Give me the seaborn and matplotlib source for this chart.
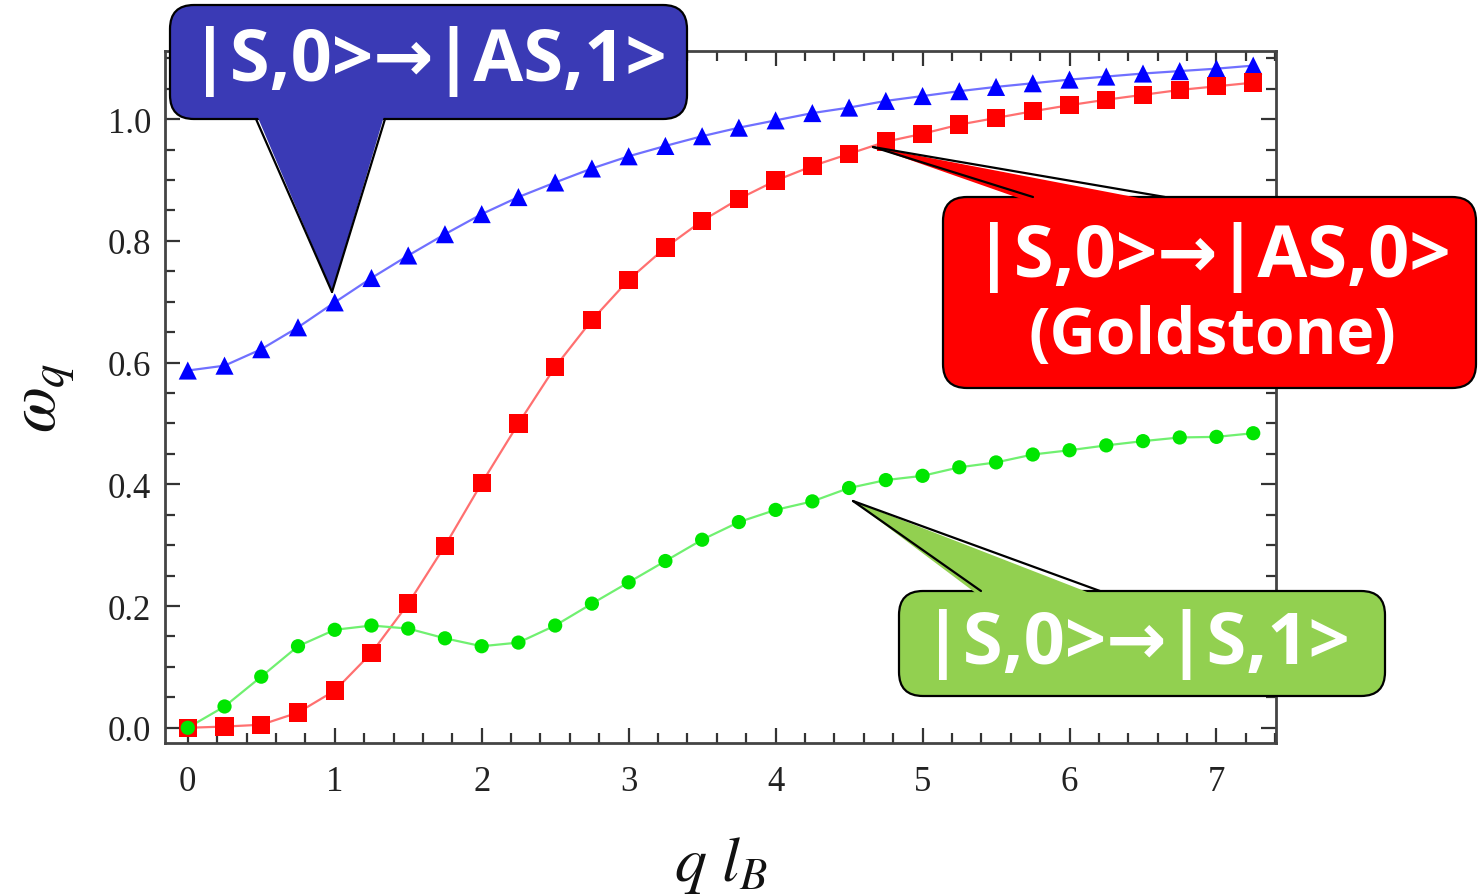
import numpy as np
import pandas as pd
import matplotlib
matplotlib.use("Agg")
import matplotlib.pyplot as plt
import seaborn as sns
from matplotlib.patches import FancyBboxPatch, Polygon
from matplotlib.lines import Line2D
from matplotlib.transforms import Affine2D
from matplotlib.ticker import MultipleLocator, FormatStrFormatter

# ---------------- data ----------------
q_lB = [0.0, 0.25, 0.5, 0.75, 1.0, 1.25, 1.5, 1.75, 2.0, 2.25,
        2.5, 2.75, 3.0, 3.25, 3.5, 3.75, 4.0, 4.25, 4.5, 4.75,
        5.0, 5.25, 5.5, 5.75, 6.0, 6.25, 6.5, 6.75, 7.0, 7.25]
omega_AS1 = [0.587, 0.595, 0.622, 0.658, 0.699, 0.739, 0.776, 0.811, 0.844, 0.872,
             0.896, 0.919, 0.939, 0.956, 0.972, 0.986, 0.998, 1.010, 1.019, 1.030,
             1.038, 1.046, 1.053, 1.059, 1.065, 1.070, 1.075, 1.079, 1.083, 1.088]
omega_AS0 = [0.000, 0.002, 0.005, 0.025, 0.061, 0.123, 0.204, 0.299, 0.402, 0.500,
             0.593, 0.670, 0.736, 0.789, 0.833, 0.869, 0.899, 0.923, 0.943, 0.963,
             0.976, 0.991, 1.002, 1.013, 1.023, 1.032, 1.040, 1.048, 1.054, 1.060]
omega_S1 = [0.000, 0.035, 0.084, 0.134, 0.161, 0.168, 0.163, 0.147, 0.134, 0.140,
            0.168, 0.204, 0.239, 0.274, 0.309, 0.338, 0.358, 0.372, 0.394, 0.407,
            0.414, 0.428, 0.436, 0.449, 0.456, 0.464, 0.471, 0.477, 0.478, 0.484]
x_ticks = [0, 1, 2, 3, 4, 5, 6, 7]
y_ticks = [0.0, 0.2, 0.4, 0.6, 0.8, 1.0]
label_AS1 = "|S,0>→|AS,1>"
label_AS0_line1 = "|S,0>→|AS,0>"
label_AS0_line2 = "(Goldstone)"
label_S1 = "|S,0>→|S,1>"

# ---------------- style ----------------
sns.set_theme(style="ticks")
plt.rcParams["font.family"] = ["Liberation Serif", "DejaVu Serif"]
plt.rcParams["mathtext.fontset"] = "stix"

W, H = 1478, 895
fig = plt.figure(figsize=(W / 100, H / 100), dpi=100)
ax = fig.add_axes([165 / W, 1 - 744 / H, (1276 - 165) / W, (744 - 52) / H])

df = pd.DataFrame({"q": q_lB, "AS1": omega_AS1, "AS0": omega_AS0, "S1": omega_S1})

series = [
    ("AS1", "#0000ff", "#7070ff", "^", 170),
    ("AS0", "#ff0000", "#ff7070", "s", 175),
    ("S1", "#00e600", "#70f070", "o", 105),
]
for col, mc, lc, mk, sz in series:
    sns.lineplot(data=df, x="q", y=col, color=lc, linewidth=1.6, ax=ax, zorder=2)
    sns.scatterplot(data=df, x="q", y=col, color=mc, marker=mk, s=sz,
                    edgecolor="none", linewidth=0, ax=ax, zorder=3)

ax.set_xlim(-0.155, 7.405)
ax.set_ylim(-0.025, 1.112)
ax.set_xticks(x_ticks)
ax.set_yticks(y_ticks)
ax.xaxis.set_minor_locator(MultipleLocator(0.2))
ax.yaxis.set_minor_locator(MultipleLocator(0.05))
ax.yaxis.set_major_formatter(FormatStrFormatter("%.1f"))
ax.tick_params(which="both", direction="in", top=True, right=True,
               color="#333333", width=1.6)
ax.tick_params(which="major", length=11)
ax.tick_params(which="minor", length=7)
ax.tick_params(axis="x", which="major", pad=16, labelsize=25, labelcolor="#222222")
ax.tick_params(axis="y", which="major", pad=10, labelsize=25, labelcolor="#222222")
for sp in ax.spines.values():
    sp.set_color("#444444")
    sp.set_linewidth(2.0)

ax.set_xlabel(r"$q\ l_B$", fontsize=46, labelpad=26, color="#111111")
ax.set_ylabel(r"$\omega_q$", fontsize=48, labelpad=22, color="#111111")

# ---------------- callouts (figure pixel coordinates, y from top) ----------------
pxT = Affine2D().scale(1 / 100, -1 / 100).translate(0, H / 100) + fig.dpi_scale_trans
callout_font = ["Open Sans", "DejaVu Sans"]


def callout(x0, y0, x1, y1, base_a, base_b, tip, color, side="bottom"):
    box = FancyBboxPatch((x0, y0), x1 - x0, y1 - y0,
                         boxstyle="round,pad=0,rounding_size=24",
                         facecolor=color, edgecolor="black", linewidth=1.6,
                         transform=pxT, zorder=10)
    fig.add_artist(box)
    edge_y = y1 if side == "bottom" else y0
    inward = -6 if side == "bottom" else 6
    tri = Polygon([(base_a, edge_y + inward), tip, (base_b, edge_y + inward)],
                  closed=True, facecolor=color, edgecolor="none",
                  transform=pxT, zorder=11)
    fig.add_artist(tri)
    for bx in (base_a, base_b):
        fig.add_artist(Line2D([bx, tip[0]], [edge_y, tip[1]], color="black",
                              linewidth=1.6, transform=pxT, zorder=12))


def label(tx, ty, text, fsize):
    fig.text(tx / W, 1 - ty / H, text, color="white", fontsize=fsize,
             family=callout_font, fontweight="bold",
             ha="center", va="center", zorder=13)


callout(170, 6, 687, 120, 256, 385, (332, 293), "#3a3ab5", side="bottom")
label(428, 62, label_AS1, 52)

callout(943, 198, 1476, 389, 1033, 1165, (873, 148), "#ff0000", side="top")
label(1212, 258, label_AS0_line1, 52)
label(1212, 337, label_AS0_line2, 46)

callout(899, 592, 1385, 697, 981, 1100, (853, 502), "#92d050", side="top")
label(1136, 645, label_S1, 52)

fig.savefig("out.png", dpi=100)
